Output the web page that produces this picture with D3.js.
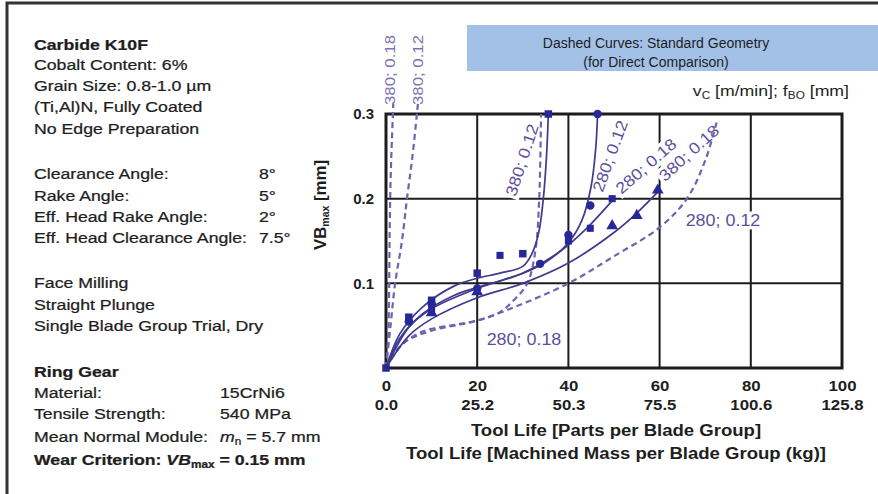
<!DOCTYPE html>
<html>
<head>
<meta charset="utf-8">
<script src="https://cdn.jsdelivr.net/npm/d3@7"></script>
<style>
  html, body { margin: 0; padding: 0; background: #fff; }
  svg { display: block; font-family: "Liberation Sans", Arial, sans-serif; }
</style>
</head>
<body>
<svg id="chart" width="878" height="494"></svg>
<script>
// ---- tick values ----
const xTicks = [0, 20, 40, 60, 80, 100];
const xMassLabels = ["0.0", "25.2", "50.3", "75.5", "100.6", "125.8"];
const yTicks = [0.1, 0.2, 0.3];

// ---- fitted wear curves, new geometry (solid) : [parts, VB mm] ----
const fit380_012 = [[0,0],[3,0.04],[8,0.072],[15,0.097],[20,0.106],[25,0.112],[30,0.12],[32,0.135],[33.5,0.16],[34.5,0.2],[35.2,0.25],[35.6,0.3]];
const fit280_012 = [[0,0],[3,0.035],[8,0.064],[15,0.086],[20,0.095],[25,0.103],[30,0.112],[35,0.125],[40,0.148],[43,0.175],[45,0.215],[46,0.26],[46.4,0.3]];
const fit280_018 = [[0,0],[5,0.048],[10,0.07],[20,0.094],[30,0.112],[38,0.137],[44,0.165],[50,0.2]];
const fit380_018 = [[0,0],[5,0.038],[10,0.058],[20,0.083],[30,0.1],[40,0.124],[50,0.16],[55,0.183],[60,0.21]];

// ---- measured points, new geometry ----
const pts380_012 = [[0,0],[5,0.06],[10,0.08],[20,0.112],[30,0.135],[35.6,0.3]];
const pts280_012 = [[5,0.055],[10,0.076],[20,0.094],[33.8,0.123],[40,0.157],[44.8,0.192],[46.4,0.3]];
const pts280_018 = [[10,0.07],[25,0.133],[40,0.15],[44.8,0.165],[49.6,0.2]];
const pts380_018 = [[10,0.065],[20,0.09],[49.6,0.168],[55,0.18],[59.6,0.21]];

// ---- standard geometry (dashed) ----
const std380_018 = [[0,0],[0.5,0.04],[0.7,0.1],[0.8,0.16],[1.0,0.22],[1.3,0.27],[1.6,0.312]];
const std380_012 = [[0,0],[1,0.05],[2,0.1],[3.5,0.15],[4.6,0.2],[5.8,0.25],[7,0.312]];
const std280_018 = [[0,0],[3,0.025],[8,0.043],[15,0.051],[20,0.056],[25,0.066],[28,0.08],[31,0.1],[32.8,0.14],[33.6,0.2],[34,0.3]];
const std280_012 = [[0,0],[4,0.03],[10,0.044],[20,0.056],[30,0.076],[40,0.1],[50,0.132],[60,0.166],[66,0.2],[70,0.245],[72.5,0.29]];

const svg = d3.select("#chart");
const x = d3.scaleLinear().domain([0, 100]).range([386, 842]);
const y = d3.scaleLinear().domain([0, 0.3]).range([368, 114]);

const ink = "#1c1c1c";
const textInk = "#1e1e1e";
const curveInk = "#3f3a8e";
const dashInk = "#6f62b0";
const markInk = "#27279a";
const labelInk = "#5d4f9e";

// outer frame
svg.append("path").attr("d", "M7,500 L7,3 L880,3")
  .attr("fill", "none").attr("stroke", "#333").attr("stroke-width", 3);

// ---- descriptive text block (wide face: glyphs stretched horizontally) ----
const info = [
  {t: "Carbide K10F", y: 50, b: true},
  {t: "Cobalt Content:  6%", y: 70},
  {t: "Grain Size:  0.8-1.0 µm", y: 91},
  {t: "(Ti,Al)N, Fully Coated", y: 112},
  {t: "No Edge Preparation", y: 134},
  {t: "Clearance Angle:", y: 179, v: "8°"},
  {t: "Rake Angle:", y: 201, v: "5°"},
  {t: "Eff. Head Rake Angle:", y: 222, v: "2°"},
  {t: "Eff. Head Clearance Angle:", y: 243, v: "7.5°"},
  {t: "Face Milling", y: 288},
  {t: "Straight Plunge", y: 310},
  {t: "Single Blade Group Trial, Dry", y: 331},
  {t: "Ring Gear", y: 377, b: true},
  {t: "Material:", y: 398, v2: "15CrNi6"},
  {t: "Tensile Strength:", y: 419, v2: "540 MPa"}
];
const kInfo = 1.18;
const infoG = svg.append("g").attr("transform", `translate(34,0) scale(${kInfo},1)`)
  .attr("fill", textInk).attr("stroke", textInk).attr("stroke-width", 0.25).attr("font-size", 15);
const ix = px => (px - 34) / kInfo;
info.forEach(d => {
  infoG.append("text").attr("x", 0).attr("y", d.y)
    .attr("font-weight", d.b ? "bold" : "normal").text(d.t);
  if (d.v) infoG.append("text").attr("x", ix(259)).attr("y", d.y).text(d.v);
  if (d.v2) infoG.append("text").attr("x", ix(220)).attr("y", d.y).text(d.v2);
});
infoG.append("text").attr("x", 0).attr("y", 442).text("Mean Normal Module:");
const mn = infoG.append("text").attr("x", ix(220)).attr("y", 442);
mn.append("tspan").attr("font-style", "italic").text("m");
mn.append("tspan").attr("font-size", 10).attr("dy", 3).text("n");
mn.append("tspan").attr("dy", -3).text(" = 5.7 mm");
const wc = infoG.append("text").attr("x", 0).attr("y", 465).attr("font-weight", "bold");
wc.append("tspan").text("Wear Criterion: ");
wc.append("tspan").attr("font-style", "italic").text("VB");
wc.append("tspan").attr("font-size", 10).attr("dy", 3).text("max");
wc.append("tspan").attr("dy", -3).text(" = 0.15 mm");

// ---- header box ----
svg.append("rect").attr("x", 467).attr("y", 25).attr("width", 411).attr("height", 46)
  .attr("fill", "#a3c1e6");
svg.append("text").attr("x", 656).attr("y", 48).attr("text-anchor", "middle")
  .attr("font-size", 14).attr("fill", textInk).text("Dashed Curves: Standard Geometry");
svg.append("text").attr("x", 656).attr("y", 67).attr("text-anchor", "middle")
  .attr("font-size", 14).attr("fill", textInk).text("(for Direct Comparison)");

const unit = svg.append("text").attr("transform", "translate(849,96) scale(1.18,1)")
  .attr("text-anchor", "end").attr("font-size", 15).attr("fill", textInk);
unit.append("tspan").text("v");
unit.append("tspan").attr("font-size", 10).attr("dy", 3).text("C");
unit.append("tspan").attr("dy", -3).text(" [m/min]; f");
unit.append("tspan").attr("font-size", 10).attr("dy", 3).text("BO");
unit.append("tspan").attr("dy", -3).text(" [mm]");

// ---- grid ----
const grid = svg.append("g").attr("stroke", ink).attr("stroke-width", 2);
xTicks.slice(1, -1).forEach(t => grid.append("line")
  .attr("x1", x(t)).attr("x2", x(t)).attr("y1", y(0)).attr("y2", y(0.3)));
yTicks.slice(0, -1).forEach(t => grid.append("line")
  .attr("x1", x(0)).attr("x2", x(100)).attr("y1", y(t)).attr("y2", y(t)));

// ---- plot frame ----
svg.append("rect").attr("x", x(0)).attr("y", y(0.3))
  .attr("width", x(100) - x(0)).attr("height", y(0) - y(0.3))
  .attr("fill", "none").attr("stroke", ink).attr("stroke-width", 3);

// ---- axes ----
function styleTicks(g, k) {
  g.select(".domain").remove();
  g.selectAll("text").attr("font-size", 15).attr("font-weight", "bold").attr("fill", textInk)
    .attr("font-family", "Liberation Sans, Arial, sans-serif");
  if (k) g.selectAll(".tick text").attr("transform", `scale(${k},1)`);
}
const xAxis = svg.append("g").attr("transform", `translate(0,${y(0)})`)
  .call(d3.axisBottom(x).tickValues(xTicks).tickSize(0).tickPadding(12));
styleTicks(xAxis, 1.12);
const xAxis2 = svg.append("g").attr("transform", `translate(0,${y(0) + 19})`)
  .call(d3.axisBottom(x).tickValues(xTicks).tickSize(0).tickPadding(12)
    .tickFormat((d, i) => xMassLabels[i]));
styleTicks(xAxis2, 1.12);

const yAxis = svg.append("g").attr("transform", `translate(${x(0)},0)`)
  .call(d3.axisLeft(y).tickValues(yTicks).tickSize(0).tickPadding(12)
    .tickFormat(d3.format(".1f")));
styleTicks(yAxis, 0);

const kTitle = 1.16;
svg.append("text").attr("transform", `translate(616,436) scale(${kTitle},1)`).attr("text-anchor", "middle")
  .attr("font-size", 16).attr("font-weight", "bold").attr("fill", textInk)
  .text("Tool Life [Parts per Blade Group]");
svg.append("text").attr("transform", `translate(616,459) scale(${kTitle},1)`).attr("text-anchor", "middle")
  .attr("font-size", 16).attr("font-weight", "bold").attr("fill", textInk)
  .text("Tool Life [Machined Mass per Blade Group (kg)]");

const yt = svg.append("text").attr("transform", "translate(326,205) rotate(-90) scale(1.05,1)")
  .attr("text-anchor", "middle").attr("font-size", 16).attr("font-weight", "bold").attr("fill", textInk);
yt.append("tspan").text("VB");
yt.append("tspan").attr("font-size", 10).attr("dy", 3).text("max");
yt.append("tspan").attr("dy", -3).text(" [mm]");

// ---- curve labels with white backing (drawn before curves so curves stay on top) ----
function label(txt, cx, cy, angle, anchor) {
  const g = svg.append("g").attr("transform", `translate(${cx},${cy}) rotate(${angle}) scale(1.12,1)`);
  const t = g.append("text").attr("text-anchor", anchor || "middle").attr("dy", "0.35em")
    .attr("font-size", 16).attr("fill", labelInk).text(txt);
  const bb = t.node().getBBox();
  g.insert("rect", "text").attr("x", bb.x - 2).attr("y", bb.y)
    .attr("width", bb.width + 4).attr("height", bb.height).attr("fill", "#fff");
  return g;
}
label("280; 0.12", 723, 220, 0);
label("280; 0.18", 524, 339, 0);
label("380; 0.18", 689, 153, -42);
label("280; 0.18", 646, 166, -41);
label("280; 0.12", 610, 156, -70);
label("380; 0.12", 522, 160, -72);
svg.append("text").attr("transform", "translate(395,105) rotate(-90) scale(1.12,1)")
  .attr("font-size", 15).attr("fill", "#7d72b4").text("380; 0.18");
svg.append("text").attr("transform", "translate(423,105) rotate(-90) scale(1.12,1)")
  .attr("font-size", 15).attr("fill", "#7d72b4").text("380; 0.12");

// ---- dashed standard-geometry curves ----
const line = d3.line().x(d => x(d[0])).y(d => y(d[1])).curve(d3.curveCatmullRom.alpha(0.5));
[std380_018, std380_012, std280_018, std280_012].forEach(s => {
  svg.append("path").attr("d", line(s)).attr("fill", "none")
    .attr("stroke", dashInk).attr("stroke-width", 2.2).attr("stroke-dasharray", "6,4");
});

// ---- solid fitted curves ----
[fit380_012, fit280_012, fit280_018, fit380_018].forEach(s => {
  svg.append("path").attr("d", line(s)).attr("fill", "none")
    .attr("stroke", curveInk).attr("stroke-width", 1.7);
});

// ---- measured markers ----
const sym = (type, size) => d3.symbol().type(type).size(size);
const markerSets = [
  {pts: pts380_012, type: d3.symbolSquare, size: 56},
  {pts: pts280_012, type: d3.symbolCircle, size: 56},
  {pts: pts280_018, type: d3.symbolSquare, size: 50},
  {pts: pts380_018, type: d3.symbolTriangle, size: 60}
];
markerSets.forEach(m => {
  svg.append("g").selectAll("path").data(m.pts).join("path")
    .attr("transform", d => `translate(${x(d[0])},${y(d[1])})`)
    .attr("d", sym(m.type, m.size)).attr("fill", markInk);
});
</script>
</body>
</html>
